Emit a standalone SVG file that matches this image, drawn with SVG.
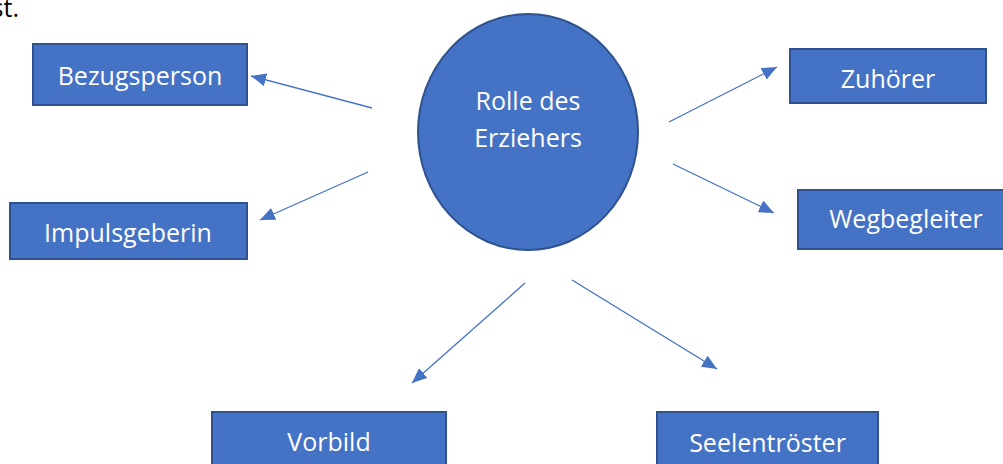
<svg xmlns="http://www.w3.org/2000/svg" width="1003" height="464" viewBox="0 0 1003 464">
  <style>
    .box { fill: #4472C4; stroke: #2F528F; stroke-width: 2; }
    .lbl { fill: #FFFFFF; font-family: "Open Sans", "Noto Sans", sans-serif; font-size: 25px; text-anchor: middle; }
    .conn { stroke: #4472C4; stroke-width: 1.3; fill: none; marker-end: url(#arrow); }
    .body { fill: #000000; font-family: "Open Sans", "Noto Sans", sans-serif; font-size: 25px; }
  </style>
  <defs>
    <marker id="arrow" markerUnits="userSpaceOnUse" markerWidth="15" markerHeight="13" refX="15" refY="6.5" orient="auto">
      <path d="M0,0 L15,6.5 L0,13 z" fill="#4472C4"/>
    </marker>
  </defs>
  <rect width="1003" height="464" fill="#FFFFFF"/>
  <text class="body" x="19" y="17" text-anchor="end">st.</text>

  <g id="connectors">
    <line class="conn" x1="372" y1="108" x2="251" y2="76"/>
    <line class="conn" x1="368" y1="172" x2="260" y2="220"/>
    <line class="conn" x1="669" y1="122" x2="777" y2="67"/>
    <line class="conn" x1="673" y1="164" x2="774" y2="213"/>
    <line class="conn" x1="525" y1="283" x2="412" y2="383"/>
    <line class="conn" x1="572" y1="280" x2="717" y2="369"/>
  </g>

  <g id="node-center">
    <ellipse class="box" cx="528" cy="132" rx="110" ry="118"/>
    <text class="lbl" x="528" y="110">Rolle des</text>
    <text class="lbl" x="528" y="147">Erziehers</text>
  </g>
  <g id="node-bezugsperson">
    <rect class="box" x="33" y="44" width="214" height="61"/>
    <text class="lbl" x="140" y="85">Bezugsperson</text>
  </g>
  <g id="node-impulsgeberin">
    <rect class="box" x="10" y="203" width="237" height="56"/>
    <text class="lbl" x="128" y="242">Impulsgeberin</text>
  </g>
  <g id="node-zuhoerer">
    <rect class="box" x="790" y="49" width="196" height="54"/>
    <text class="lbl" x="888" y="88">Zuhörer</text>
  </g>
  <g id="node-wegbegleiter">
    <rect class="box" x="798" y="190" width="220" height="59"/>
    <text class="lbl" x="906" y="228">Wegbegleiter</text>
  </g>
  <g id="node-vorbild">
    <rect class="box" x="212" y="412" width="234" height="70"/>
    <text class="lbl" x="329" y="451">Vorbild</text>
  </g>
  <g id="node-seelentroester">
    <rect class="box" x="657" y="412" width="221" height="70"/>
    <text class="lbl" x="767.5" y="452">Seelentröster</text>
  </g>
</svg>
